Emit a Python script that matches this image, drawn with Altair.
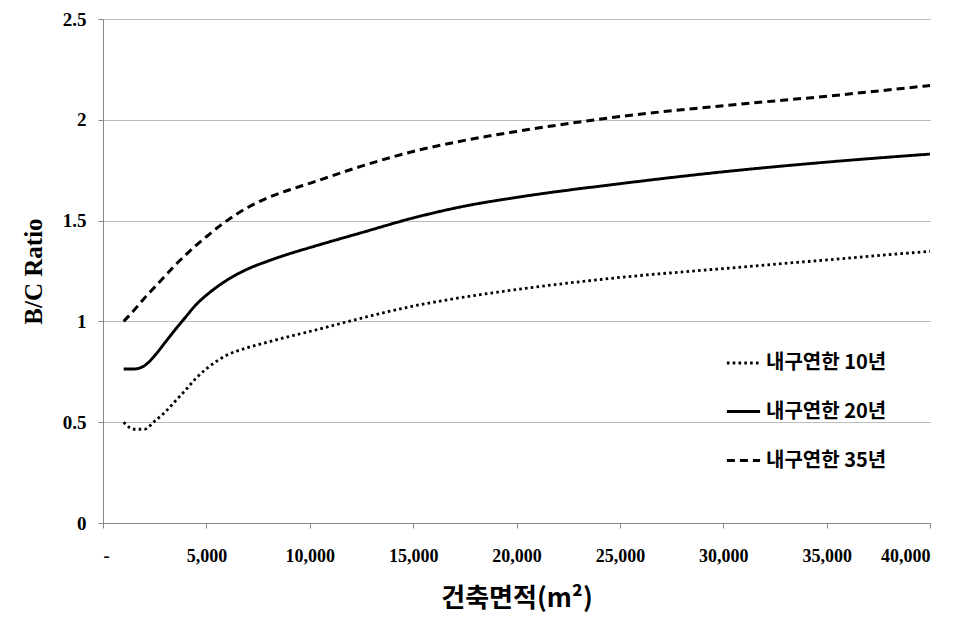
import altair as alt
import pandas as pd

xs = [1000, 1500, 2000, 2500, 3000, 3500, 4000, 4500, 5000, 5500, 6000, 7000, 8000, 9000,
      10000, 12500, 15000, 17500, 20000, 25000, 30000, 35000, 40000]
s10 = [0.50, 0.465, 0.465, 0.505, 0.55, 0.605, 0.66, 0.718, 0.765, 0.803, 0.833, 0.87, 0.898, 0.925,
       0.95, 1.016, 1.076, 1.121, 1.158, 1.218, 1.262, 1.305, 1.348]
s20 = [0.764, 0.764, 0.78, 0.83, 0.895, 0.96, 1.022, 1.083, 1.13, 1.17, 1.205, 1.26, 1.30, 1.335,
       1.366, 1.44, 1.513, 1.572, 1.615, 1.683, 1.742, 1.79, 1.83]
s35 = [1.0, 1.055, 1.115, 1.17, 1.225, 1.28, 1.33, 1.377, 1.42, 1.462, 1.50, 1.565, 1.615, 1.652,
       1.685, 1.77, 1.843, 1.898, 1.942, 2.016, 2.07, 2.117, 2.17]
names = ["내구연한 10년", "내구연한 20년", "내구연한 35년"]

rows = []
for name, ser in zip(names, [s10, s20, s35]):
    for x, v in zip(xs, ser):
        rows.append({"x": x, "v": v, "s": name})
df = pd.DataFrame(rows)

serif = "Liberation Serif"
kr = "Noto Sans CJK KR"

chart = alt.Chart(df).mark_line(interpolate="monotone", color="black").encode(
    x=alt.X("x:Q", scale=alt.Scale(domain=[0, 40000], nice=False),
            axis=alt.Axis(values=list(range(0, 40001, 5000)),
                          labelExpr="datum.value == 0 ? '-' : format(datum.value, ',')",
                          title="건축면적(m²)", grid=False,
                          labelFont=serif, labelFontSize=18, labelFontWeight="bold", labelColor="black",
                          labelPadding=19, tickSize=5, tickColor="#888", domainColor="#888",
                          titleFont=kr, titleFontSize=26, titleFontWeight="bold", titleColor="black",
                          titlePadding=20)),
    y=alt.Y("v:Q", scale=alt.Scale(domain=[0, 2.5], nice=False),
            axis=alt.Axis(values=[0, 0.5, 1, 1.5, 2, 2.5], format="~g", title="B/C Ratio",
                          grid=True, gridDash=[1, 1], gridColor="#777", gridWidth=1,
                          labelFont=serif, labelFontSize=19, labelFontWeight="bold", labelColor="black",
                          labelPadding=12, tickSize=5, tickColor="#888", domainColor="#888",
                          titleFont=serif, titleFontSize=25, titleFontWeight="bold", titleColor="black",
                          titlePadding=16)),
    strokeDash=alt.StrokeDash("s:N", sort=names,
                              scale=alt.Scale(domain=names, range=[[2.6, 3.2], [1, 0], [8, 5]]),
                              legend=alt.Legend(title=None, orient="none", legendX=622, legendY=326,
                                                symbolType="stroke", symbolSize=1100,
                                                symbolStrokeWidth=3, symbolStrokeColor="black",
                                                labelFont=kr, labelFontSize=20, labelFontWeight="bold",
                                                labelColor="black", rowPadding=20, labelOffset=4,
                                                labelLimit=300)),
    strokeWidth=alt.StrokeWidth("s:N", sort=names,
                                scale=alt.Scale(domain=names, range=[2.8, 3, 3]), legend=None),
).properties(
    width=827, height=504,
    padding={"left": 95, "top": 11, "right": 40, "bottom": 100},
    autosize=alt.AutoSizeParams(type="none"),
).configure_view(stroke=None)

chart.save("out.html", embed_options={"renderer": "svg", "actions": False})
